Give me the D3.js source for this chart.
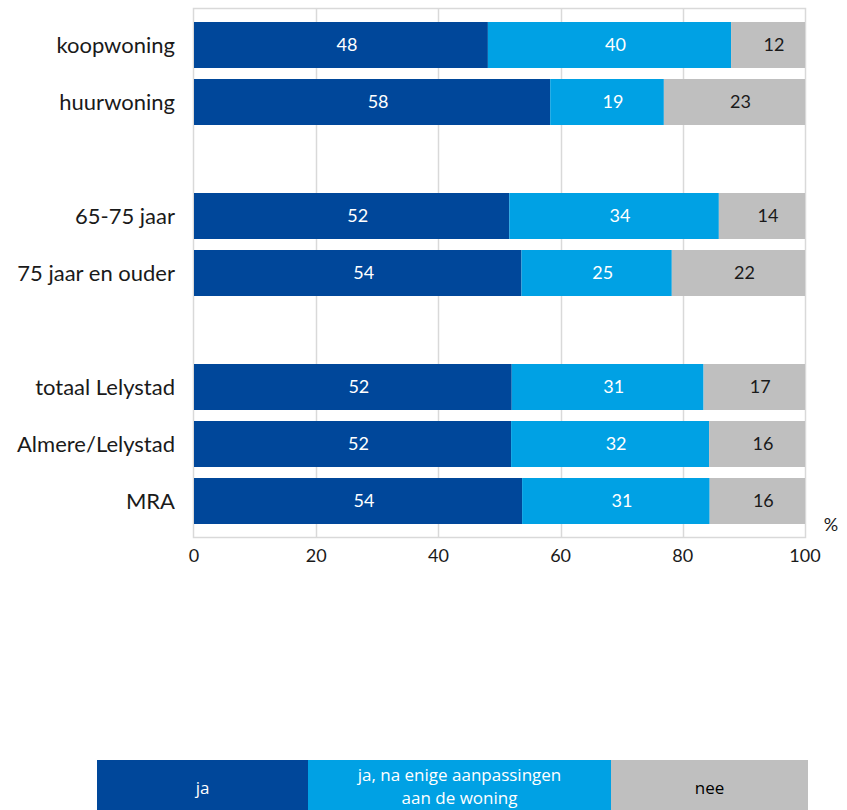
<!DOCTYPE html>
<html><head><meta charset="utf-8">
<script src="https://cdn.jsdelivr.net/npm/d3@7/dist/d3.min.js"></script>
<style>body{margin:0;background:#fff;} svg{display:block;}</style>
</head><body>
<svg id="c" width="847" height="810"></svg>
<script>
const categories = ["koopwoning","huurwoning","","65-75 jaar","75 jaar en ouder","","totaal Lelystad","Almere/Lelystad","MRA"];
const ja   = [48.1, 58.3, null, 51.6, 53.6, null, 52.0, 51.9, 53.7];
const aanp = [39.8, 18.6, null, 34.3, 24.6, null, 31.4, 32.4, 30.7];
const nee  = [12.1, 23.1, null, 14.1, 21.8, null, 16.6, 15.7, 15.6];
const seriesNames = ["ja", "ja, na enige aanpassingen|aan de woning", "nee"];
const xTicks = [0, 20, 40, 60, 80, 100];

const colors = ["#00479a", "#00a1e4", "#bfbfbf"];
const textColors = ["#ffffff", "#ffffff", "#1a1a1a"];
const svg = d3.select("#c");
const x = d3.scaleLinear().domain([0, 100]).range([194, 805]);
const y = d3.scaleBand().domain(d3.range(categories.length)).range([16.5, 529.5]).paddingInner(11/57).paddingOuter(5.5/57);

// frame
svg.append("rect").attr("x", 193.5).attr("y", 8.5).attr("width", 612).attr("height", 529)
  .attr("fill", "none").attr("stroke", "#d9d9d9").attr("stroke-width", 1.5);
// grid
svg.append("g").selectAll("line").data(xTicks.slice(1, -1)).join("line")
  .attr("x1", d => Math.round(x(d)) + 0.5).attr("x2", d => Math.round(x(d)) + 0.5)
  .attr("y1", 8.5).attr("y2", 537.5).attr("stroke", "#d9d9d9").attr("stroke-width", 1.5);

const rows = categories.map((c, i) => ({i, c, vals: [ja[i], aanp[i], nee[i]]})).filter(r => r.vals[0] != null);
const font = "Lato, 'Open Sans', sans-serif";

rows.forEach(r => {
  let cum = 0;
  r.vals.forEach((v, s) => {
    const x0 = x(cum), x1 = x(cum + v);
    svg.append("rect").attr("x", x0).attr("y", y(r.i)).attr("width", x1 - x0).attr("height", y.bandwidth()).attr("fill", colors[s]);
    svg.append("text").attr("x", (x0 + x1) / 2 + 6).attr("y", y(r.i) + y.bandwidth() / 2 + 6)
      .attr("text-anchor", "middle").attr("fill", textColors[s]).attr("font-family", font).attr("font-size", 18)
      .text(d3.format(".0f")(v));
    cum += v;
  });
  svg.append("text").attr("x", 175).attr("y", y(r.i) + y.bandwidth() / 2 + 8)
    .attr("text-anchor", "end").attr("fill", "#1a1a1a").attr("font-family", font).attr("font-size", 22).text(r.c);
});

// x axis labels
svg.append("g").selectAll("text").data(xTicks).join("text")
  .attr("x", d => x(d)).attr("y", 562).attr("text-anchor", "middle")
  .attr("font-family", font).attr("font-size", 18).attr("fill", "#1a1a1a").text(d => d);
svg.append("text").attr("x", 831).attr("y", 531).attr("text-anchor", "middle")
  .attr("font-family", font).attr("font-size", 18).attr("fill", "#1a1a1a").text("%");

// legend
const lx = d3.scaleOrdinal().domain([0, 1, 2]).range([[97, 308], [308, 611], [611, 808]]);
seriesNames.forEach((n, s) => {
  const [a, b] = lx(s);
  svg.append("rect").attr("x", a).attr("y", 760).attr("width", b - a).attr("height", 50).attr("fill", colors[s]);
  const lines = n.split("|");
  const t = svg.append("text").attr("text-anchor", "middle").attr("fill", textColors[s] === "#ffffff" ? "#fff" : "#000")
    .attr("font-family", "'Open Sans', sans-serif").attr("font-size", 17);
  lines.forEach((l, k) => {
    t.append("tspan").attr("x", (a + b) / 2).attr("y", lines.length === 1 ? 794 : 781 + k * 23).text(l);
  });
});
</script>
</body></html>
